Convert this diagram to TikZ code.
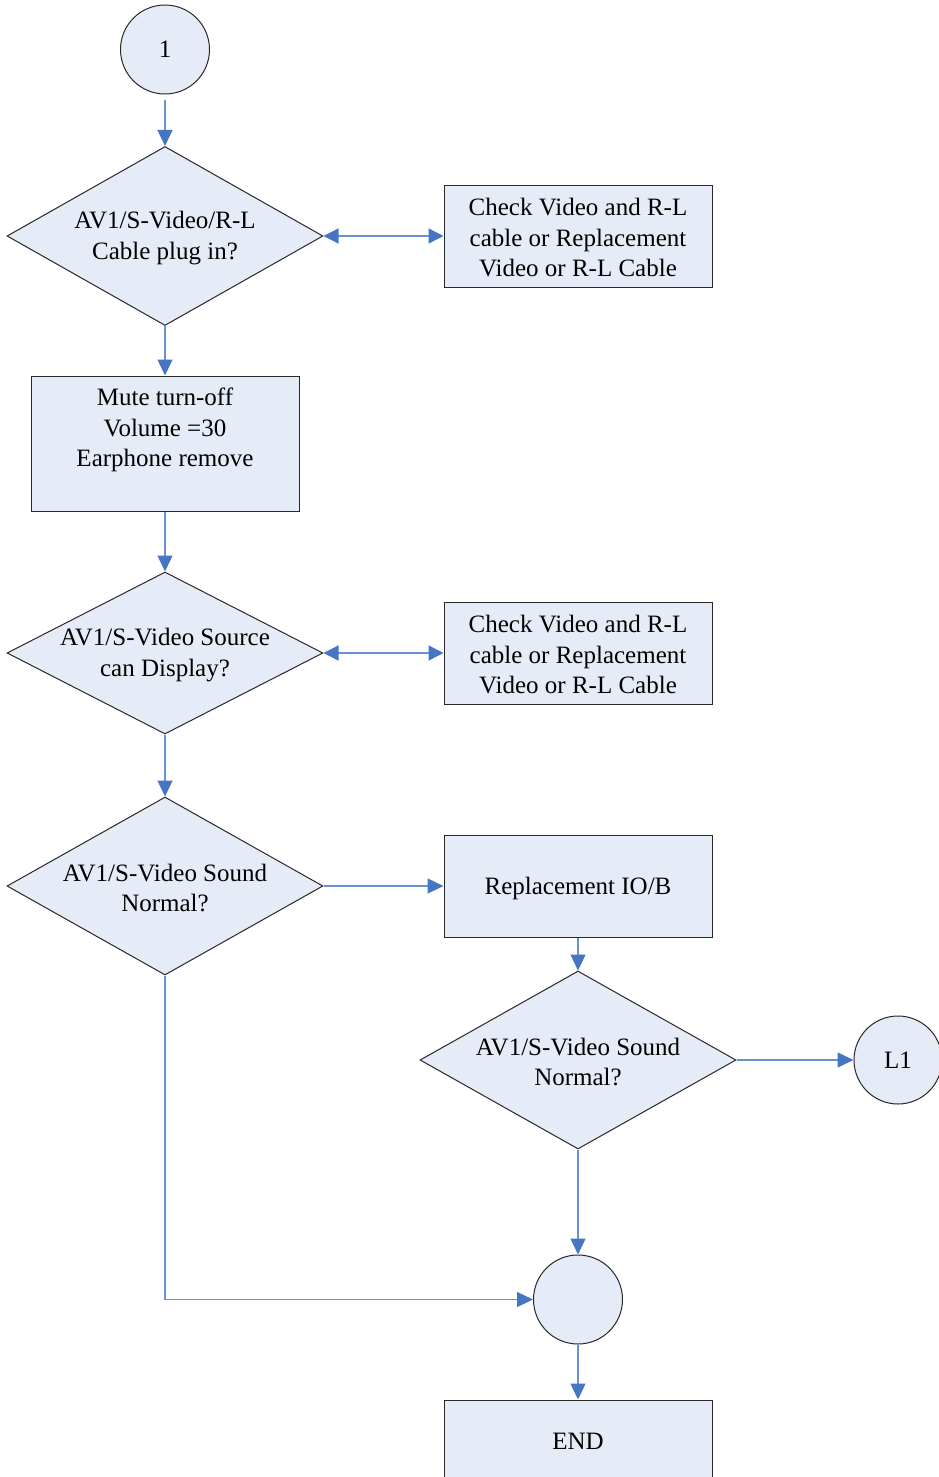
\documentclass[tikz,border=0pt]{standalone}
\usepackage{fontspec}
\setmainfont{Liberation Serif}
\usetikzlibrary{shapes.geometric,arrows.meta}
\definecolor{boxfill}{RGB}{230,236,247}
\definecolor{conline}{RGB}{104,146,208}
\definecolor{conhead}{RGB}{70,117,196}
\definecolor{border}{RGB}{40,40,40}
\begin{document}
\begin{tikzpicture}[x=1pt,y=-1pt,
  every node/.style={font=\fontsize{25}{30.5}\selectfont},
  shapebase/.style={draw=border, line width=1pt, fill=boxfill, inner sep=0pt},
  dia/.style={shapebase, diamond, minimum width=316pt, minimum height=#1},
  boxnode/.style={shapebase, rectangle, minimum width=268pt, minimum height=#1},
  circ/.style={shapebase, circle, minimum size=#1},
  txt/.style={align=center, inner sep=0pt, yshift=-2pt},
  con/.style={draw=conline, line width=1.3pt, -{Triangle[length=16pt,width=15pt,fill=conhead,color=conhead]}},
  dcon/.style={draw=conline, line width=1.3pt, {Triangle[length=15pt,width=15pt,fill=conhead,color=conhead]}-{Triangle[length=15pt,width=15pt,fill=conhead,color=conhead]}},
  plain/.style={draw=conline, line width=1.3pt}
]
\useasboundingbox (0,0) rectangle (939,1477);
\clip (0,0) rectangle (939,1477);

% shapes
\node[circ=89pt] (c1) at (165,49.5) {1};
\node[dia=179pt] (d1) at (165,236) {};
\node[txt] (d1t) at (d1.center) {AV1/S-Video/R-L\\Cable plug in?};
\node[boxnode=102pt] (b1) at (578,236) {};
\node[txt] (b1t) at (b1.center) {Check Video and R-L\\cable or Replacement\\Video or R-L Cable};
\node[boxnode=135pt] (b2) at (165,443.5) {};
\node[txt] (b2t) at (165,428) {Mute turn-off\\Volume =30\\Earphone remove};
\node[dia=162pt] (d2) at (165,653) {};
\node[txt] (d2t) at (d2.center) {AV1/S-Video Source\\can Display?};
\node[boxnode=102pt] (b3) at (578,653) {};
\node[txt] (b3t) at (b3.center) {Check Video and R-L\\cable or Replacement\\Video or R-L Cable};
\node[dia=178pt] (d3) at (165,886) {};
\node[txt] (d3t) at (d3.center) {AV1/S-Video Sound\\Normal?};
\node[boxnode=102pt] (b4) at (578,886) {};
\node[txt] (b4t) at (b4.center) {Replacement IO/B};
\node[dia=178pt] (d4) at (578,1060) {};
\node[txt] (d4t) at (d4.center) {AV1/S-Video Sound\\Normal?};
\node[circ=88pt] (l1) at (898,1060) {L1};
\node[circ=89pt] (c5) at (578,1299.5) {};
\node[boxnode=80pt] (e) at (578,1440) {};
\node[txt] (et) at (578,1439) {END};

% connectors
\draw[con, shorten <=6pt] (c1) -- (d1);
\draw[dcon] (d1.east) -- (b1.west);
\draw[con] (d1.south) -- (b2.north);
\draw[con] (b2.south) -- (d2.north);
\draw[dcon] (d2.east) -- (b3.west);
\draw[con] (d2.south) -- (d3.north);
\draw[con] (d3.east) -- (b4.west);
\draw[con] (b4.south) -- (d4.north);
\draw[con] (d4.east) -- (l1.west);
\draw[con] (d4.south) -- (c5.north);
\draw[con] (d3.south) |- (c5.west);
\draw[con] (c5.south) -- (e.north);
\end{tikzpicture}
\end{document}
